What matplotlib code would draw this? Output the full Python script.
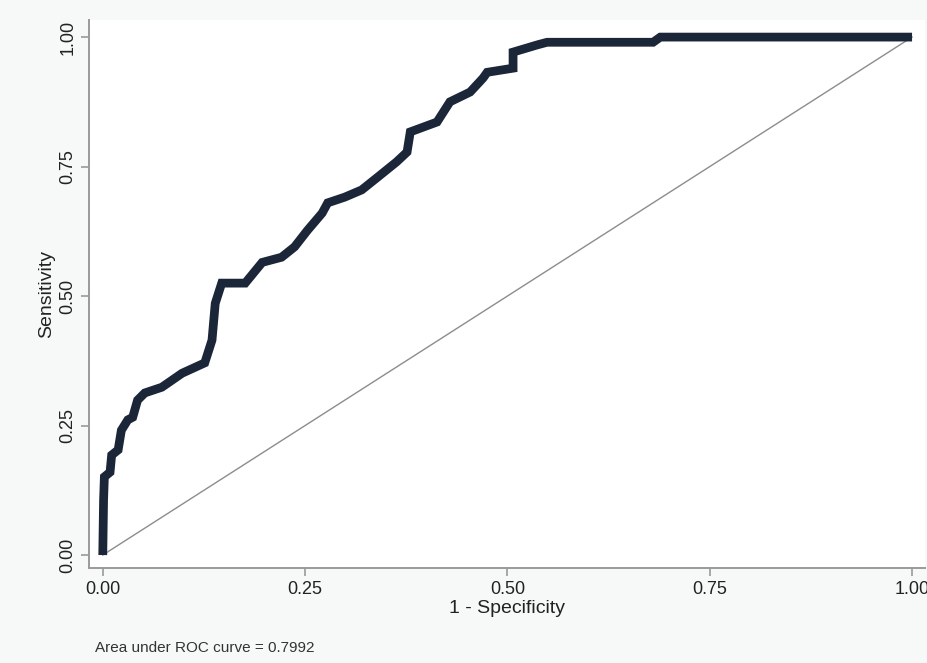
import numpy as np
import matplotlib
matplotlib.use("Agg")
import matplotlib.pyplot as plt

# ROC curve vertices: false-positive rate (1 - specificity) and sensitivity
fpr = [0.000, 0.001, 0.002, 0.009, 0.011, 0.019, 0.023, 0.031, 0.037, 0.043,
       0.052, 0.073, 0.098, 0.126, 0.135, 0.139, 0.147, 0.176, 0.197, 0.221,
       0.237, 0.253, 0.271, 0.278, 0.299, 0.320, 0.340, 0.363, 0.376, 0.380,
       0.413, 0.429, 0.454, 0.470, 0.475, 0.507, 0.507, 0.537, 0.549, 0.680,
       0.689, 1.000]
tpr = [0.000, 0.106, 0.151, 0.160, 0.193, 0.203, 0.241, 0.261, 0.266, 0.299,
       0.313, 0.324, 0.351, 0.371, 0.415, 0.486, 0.525, 0.525, 0.565, 0.575,
       0.595, 0.627, 0.660, 0.680, 0.691, 0.705, 0.730, 0.759, 0.778, 0.817,
       0.836, 0.875, 0.894, 0.921, 0.932, 0.940, 0.971, 0.985, 0.990, 0.990,
       1.000, 1.000]

tick_vals = [0.0, 0.25, 0.5, 0.75, 1.0]
tick_labels = ["0.00", "0.25", "0.50", "0.75", "1.00"]

auc = float(np.trapezoid(tpr, fpr))

plt.rcParams["font.family"] = ["Liberation Sans", "DejaVu Sans"]

W, H = 928, 663
fig = plt.figure(figsize=(W / 100, H / 100), dpi=100, facecolor="#f7f9f9")
left, right, top, bottom = 89, 925, 20, 568
ax = fig.add_axes([left / W, 1 - bottom / H, (right - left) / W, (bottom - top) / H])
ax.set_facecolor("white")

ax.plot([0, 1], [0, 1], color="#8c8c8c", lw=1.0, zorder=2)
ax.plot(fpr, tpr, color="#1b2639", lw=6.3, solid_joinstyle="miter",
        solid_capstyle="butt", zorder=3)

ax.set_xlim(-0.017, 1.016)
ax.set_ylim(-0.025, 1.033)

for s in ["top", "right"]:
    ax.spines[s].set_visible(False)
for s in ["left", "bottom"]:
    ax.spines[s].set_color("#9a9a9a")
    ax.spines[s].set_linewidth(1.4)

ax.set_xticks(tick_vals)
ax.set_xticklabels(tick_labels)
ax.set_yticks(tick_vals)
ax.set_yticklabels(tick_labels, rotation=90, va="center")
ax.tick_params(axis="both", direction="out", length=6, width=1.2,
               color="#9a9a9a", labelsize=13, labelcolor="#222222", pad=3)

ax.set_xlabel("1 - Specificity", fontsize=14, color="#222222", labelpad=2)
ax.set_ylabel("Sensitivity", fontsize=14, color="#222222", labelpad=3)

fig.text(95 / W, 1 - 648 / H, f"Area under ROC curve = {auc:.4f}",
         fontsize=11, color="#333333", va="center", ha="left")

fig.savefig("out.png", dpi=100, facecolor=fig.get_facecolor())
